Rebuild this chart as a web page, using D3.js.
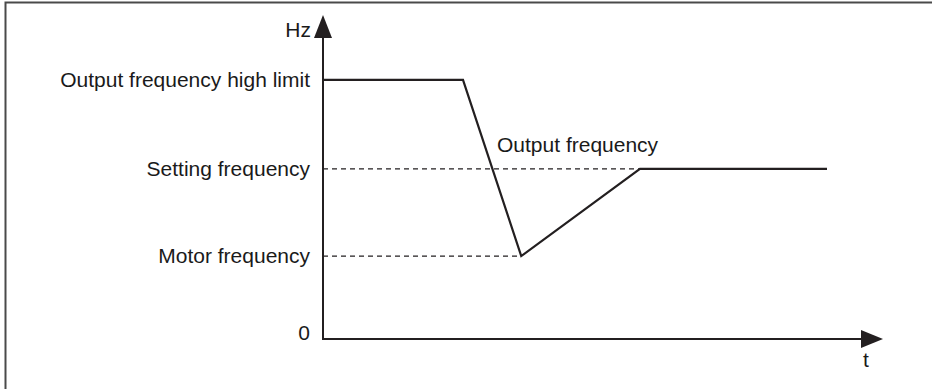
<!DOCTYPE html>
<html>
<head>
<meta charset="utf-8">
<script src="https://cdn.jsdelivr.net/npm/d3@7"></script>
<style>
  html, body { margin: 0; padding: 0; background: #fff; }
  svg { display: block; }
  text { font-family: "Liberation Sans", Arial, sans-serif; font-size: 21px; fill: #1a1a1a; }
</style>
</head>
<body>
<svg id="chart" width="932" height="389"></svg>
<script>
// Frequency levels (relative units) named on the vertical axis
const levelNames = ["0", "Motor frequency", "Setting frequency", "Output frequency high limit"];
const levelValues = [0, 32, 65.6, 100];

// Output frequency trace: time (relative units) and frequency
const outTime = [0, 25, 35.4, 56.6, 90];
const outFreq = [100, 100, 32, 65.6, 65.6];

// Dashed reference lines: level and the time where each ends
const refLevels = [65.6, 32];
const refEnds = [56.6, 35.4];

const axisLabels = { y: "Hz", x: "t" };
const seriesLabel = "Output frequency";

const svg = d3.select("#chart");
const ink = "#231f20";

const x = d3.scaleLinear().domain([0, 100]).range([323, 883]);
const y = d3.scaleLinear().domain([0, 125]).range([339, 15]);

// frame (top and left edges)
svg.append("path")
  .attr("d", "M5.5,389 L5.5,2.5 L932,2.5")
  .attr("fill", "none").attr("stroke", "#4a4a4a").attr("stroke-width", 2);

// dashed reference lines
svg.selectAll("line.ref").data(refLevels).join("line")
  .attr("class", "ref")
  .attr("x1", x(0)).attr("x2", (d, i) => x(refEnds[i]))
  .attr("y1", d => y(d)).attr("y2", d => y(d))
  .attr("stroke", ink).attr("stroke-width", 1.3)
  .attr("stroke-dasharray", "5,4");

// axes
const yTop = y(125), xEnd = x(100);
svg.append("line")
  .attr("x1", x(0)).attr("x2", x(0)).attr("y1", y(0)).attr("y2", yTop + 18)
  .attr("stroke", ink).attr("stroke-width", 2);
svg.append("line")
  .attr("x1", x(0) - 1).attr("x2", xEnd - 20).attr("y1", y(0)).attr("y2", y(0))
  .attr("stroke", ink).attr("stroke-width", 2);

// arrowheads
svg.append("path")
  .attr("d", `M${x(0)},${yTop} L${x(0) - 9},${yTop + 23} L${x(0) + 9},${yTop + 23} Z`)
  .attr("fill", ink);
svg.append("path")
  .attr("d", `M${xEnd},${y(0)} L${xEnd - 22},${y(0) - 9} L${xEnd - 22},${y(0) + 9} Z`)
  .attr("fill", ink);

// output frequency trace
const pts = outTime.map((t, i) => [x(t), y(outFreq[i])]);
svg.append("path")
  .attr("d", d3.line()(pts))
  .attr("fill", "none").attr("stroke", ink).attr("stroke-width", 2.2)
  .attr("stroke-linejoin", "miter");

// level labels
svg.selectAll("text.level").data(levelNames).join("text")
  .attr("class", "level")
  .attr("x", 310)
  .attr("y", (d, i) => i === 0 ? y(levelValues[i]) + 1 : y(levelValues[i]) + 7)
  .attr("text-anchor", "end")
  .text(d => d);

// axis titles
svg.append("text").attr("x", 311).attr("y", 37).attr("text-anchor", "end").text(axisLabels.y);
svg.append("text").attr("x", xEnd - 17).attr("y", 367).attr("text-anchor", "middle").text(axisLabels.x);

// series label
svg.append("text").attr("x", 497).attr("y", 152).text(seriesLabel);
</script>
</body>
</html>
